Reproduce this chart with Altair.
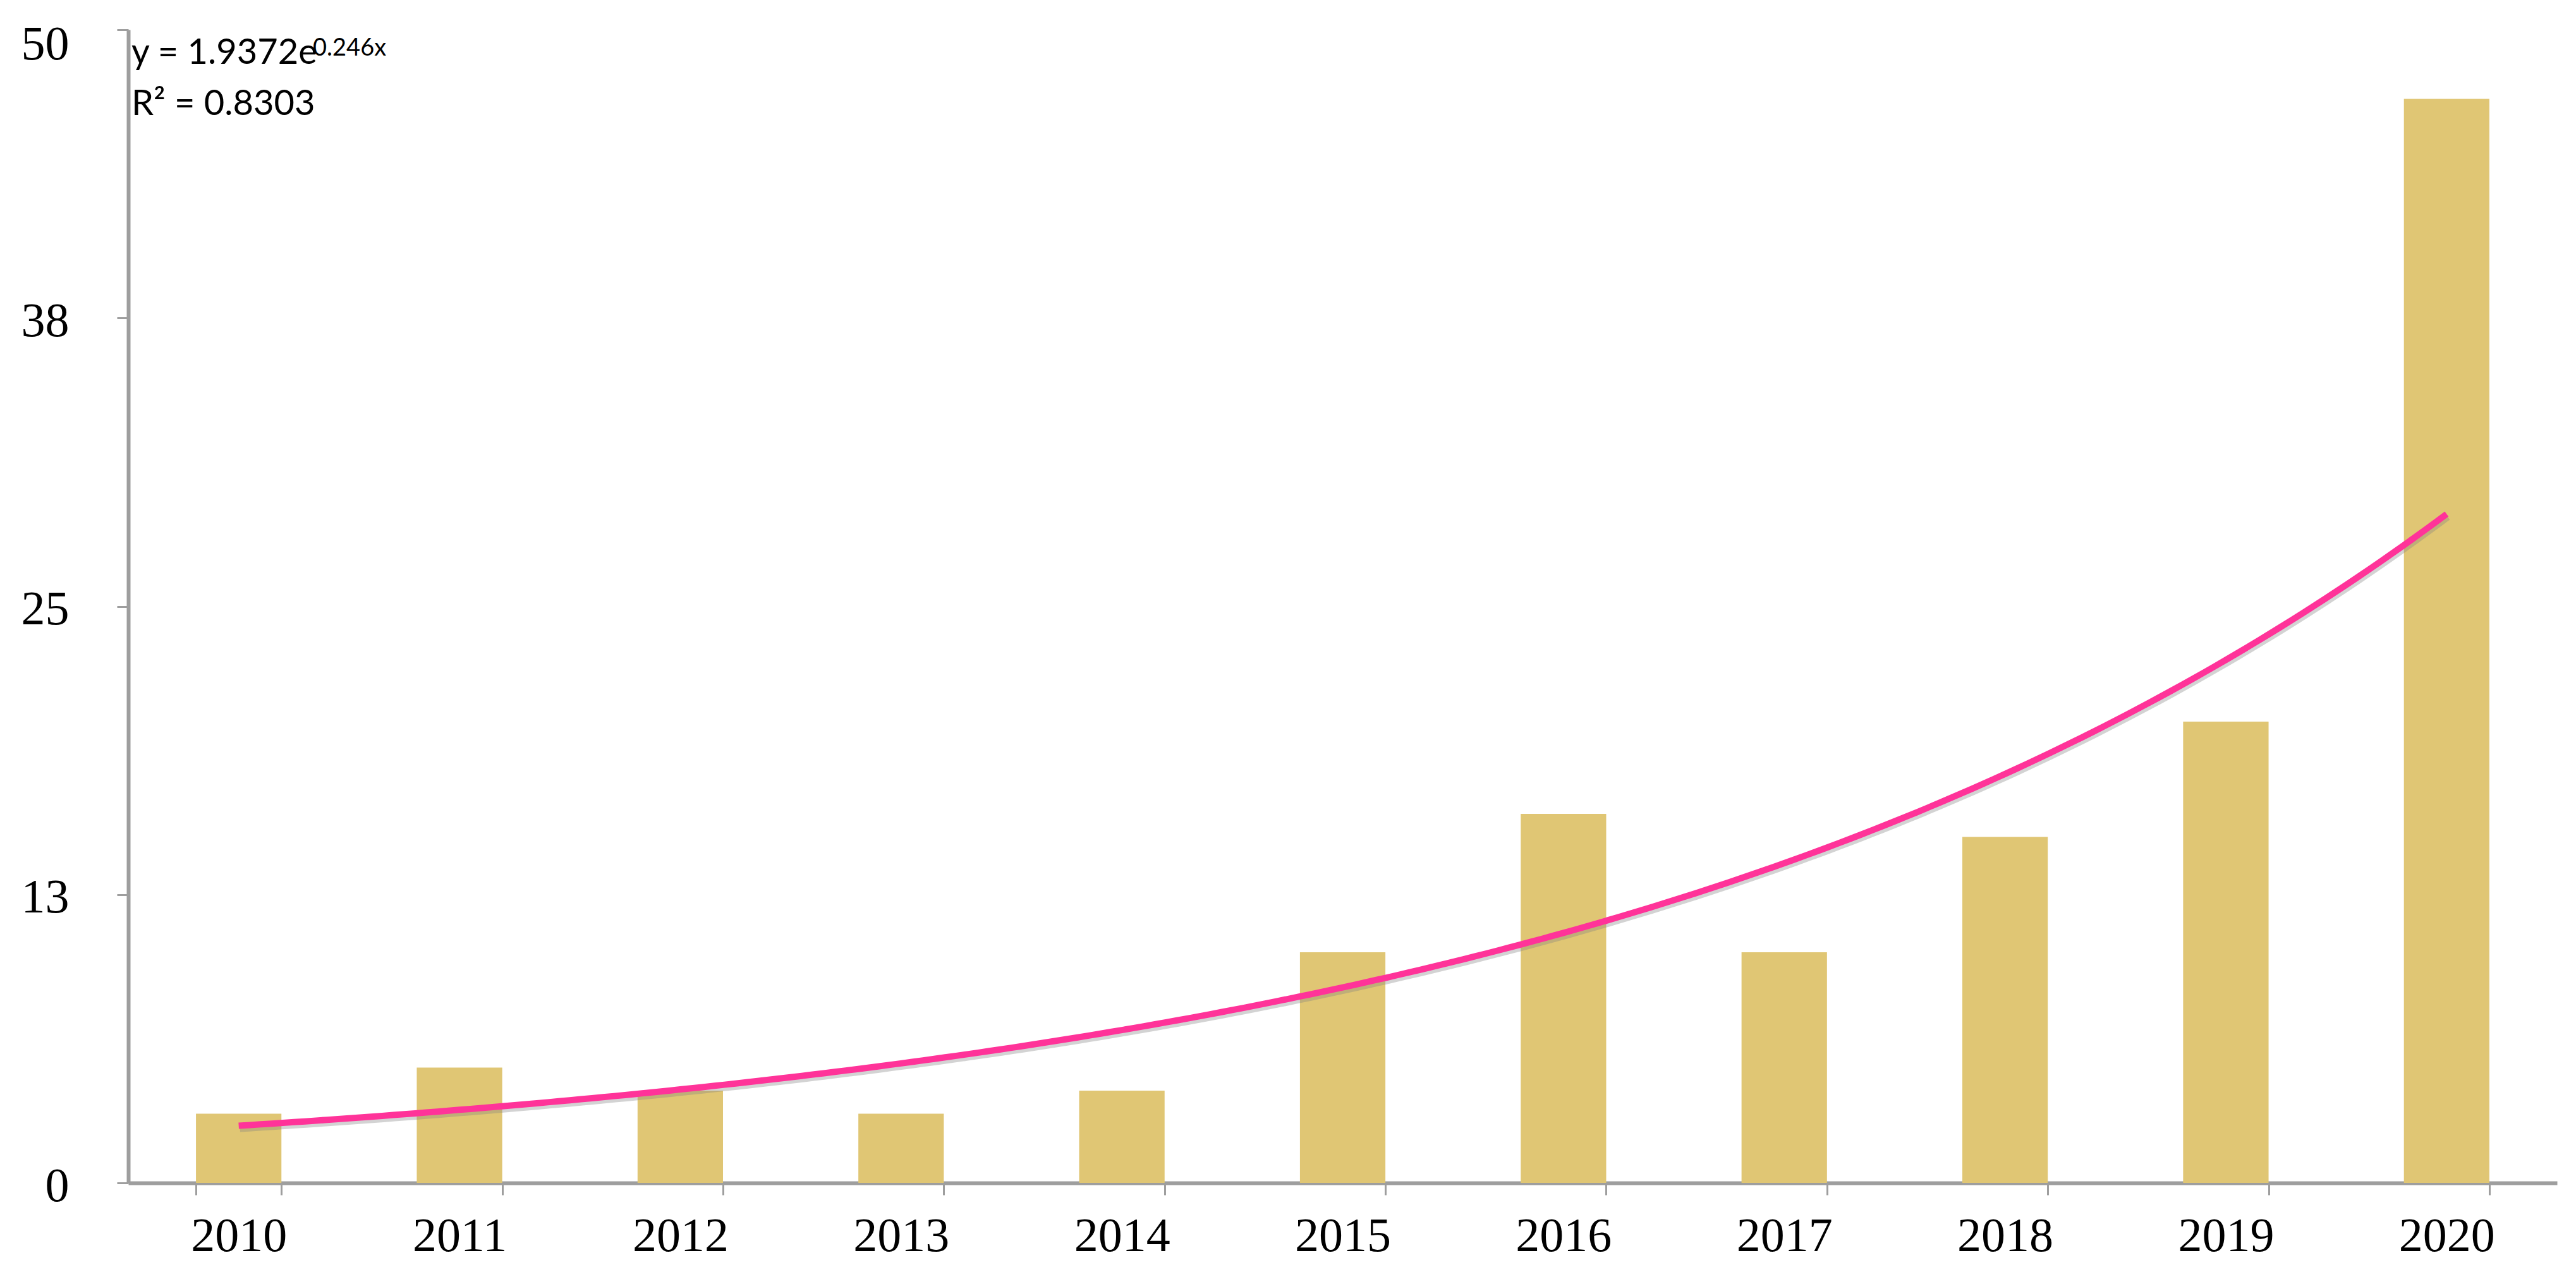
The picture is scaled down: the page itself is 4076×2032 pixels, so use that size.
import altair as alt
import pandas as pd

# ---- data ----
years = ["2010", "2011", "2012", "2013", "2014", "2015", "2016", "2017", "2018", "2019", "2020"]
counts = [3, 5, 4, 3, 4, 10, 16, 10, 15, 20, 47]
y_tick_values = [0, 12.5, 25, 37.5, 50]

# trendline equation shown on the chart (Excel exponential fit, x = 1..11)
trend_a = 1.9372
trend_b = 0.246
eq_main = "y = 1.9372e"
eq_sup = "0.246x"
r2_text = "R² = 0.8303"

BAR_COLOR = "#E0C674"
LINE_COLOR = "#FF3399"
AXIS_COLOR = "#9E9E9E"

bars_df = pd.DataFrame({"year": years, "count": counts})

bars = alt.Chart(bars_df).mark_bar(color=BAR_COLOR).encode(
    x=alt.X(
        "year:N",
        sort=None,
        scale=alt.Scale(paddingInner=0.613, paddingOuter=0.3065),
        axis=alt.Axis(
            title=None,
            labelAngle=0,
            labelFont="Liberation Serif",
            labelFontSize=76,
            labelColor="#000000",
            labelPadding=28,
            ticks=True,
            tickBand="extent",
            tickSize=19,
            tickWidth=3,
            tickColor=AXIS_COLOR,
            domainColor=AXIS_COLOR,
            domainWidth=6,
            grid=False,
        ),
    ),
    y=alt.Y(
        "count:Q",
        scale=alt.Scale(domain=[0, 50], nice=False),
        axis=alt.Axis(
            title=None,
            values=y_tick_values,
            format=".0f",
            labelFont="Liberation Serif",
            labelFontSize=76,
            labelColor="#000000",
            labelPadding=76,
            labelOffset={"condition": {"test": "datum.value >= 50", "value": 23}, "value": 5},
            ticks=True,
            tickSize=18,
            tickWidth=3,
            tickColor=AXIS_COLOR,
            domainColor=AXIS_COLOR,
            domainWidth=6,
            grid=False,
        ),
    ),
)

xq = alt.X("t:Q", scale=alt.Scale(domain=[0.5, 11.5], nice=False, zero=False), axis=None)

trend_base = alt.Chart(alt.sequence(1, 11.001, 0.05, as_="t")).transform_calculate(
    v=f"{trend_a} * exp({trend_b} * datum.t)"
)

shadow = trend_base.mark_line(color="#808080", strokeWidth=10, opacity=0.35, yOffset=5, xOffset=2).encode(
    x=xq, y=alt.Y("v:Q", title=None)
)
trend = trend_base.mark_line(color=LINE_COLOR, strokeWidth=10, strokeCap="butt").encode(
    x=xq, y=alt.Y("v:Q", title=None)
)

eq_df = pd.DataFrame({"label": [eq_main]})
sup_df = pd.DataFrame({"label": [eq_sup]})
r2_df = pd.DataFrame({"label": [r2_text]})

eq_mark = alt.Chart(eq_df).mark_text(
    align="left", baseline="alphabetic", font="Lato", fontSize=56, color="#000000"
).encode(x=alt.datum(0.514), y=alt.datum(48.52), text="label:N")

sup_mark = alt.Chart(sup_df).mark_text(
    align="left", baseline="alphabetic", font="Lato", fontSize=38, color="#000000"
).encode(x=alt.datum(1.336), y=alt.datum(48.88), text="label:N")

r2_mark = alt.Chart(r2_df).mark_text(
    align="left", baseline="alphabetic", font="Lato", fontSize=56, color="#000000"
).encode(x=alt.datum(0.514), y=alt.datum(46.30), text="label:N")

overlay = alt.layer(shadow, trend, eq_mark, sup_mark, r2_mark)

chart = (
    alt.layer(bars, overlay)
    .resolve_scale(x="independent")
    .properties(
        width=3843,
        height=1825,
        autosize=alt.AutoSizeParams(type="none"),
        padding={"left": 195, "top": 39, "right": 20, "bottom": 140},
    )
    .configure_view(stroke=None)
)

chart.save("out.html", embed_options={"renderer": "svg", "actions": False})
